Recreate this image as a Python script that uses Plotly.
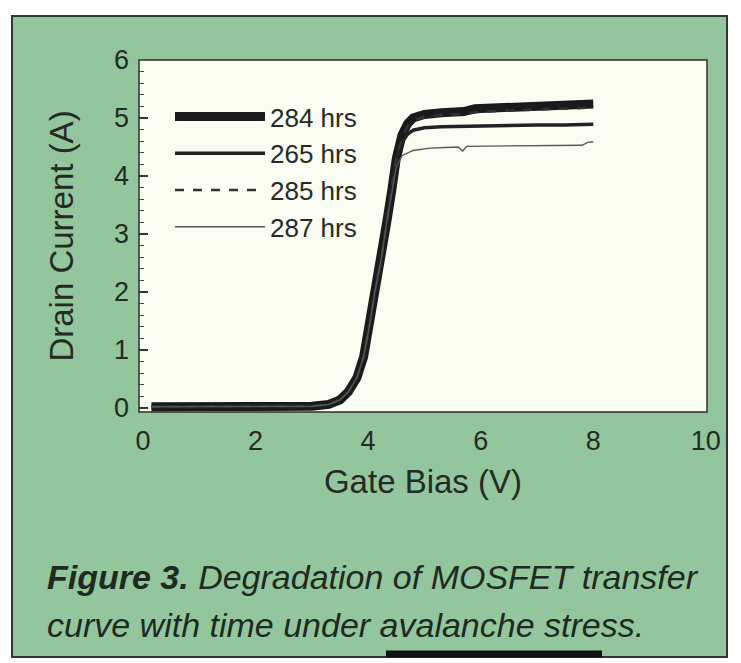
import plotly.graph_objects as go

# ---------------- data ----------------
gate_284 = [0.15, 0.5, 1.0, 1.5, 2.0, 2.5, 3.0, 3.3, 3.5, 3.65, 3.8, 3.92, 4.03, 4.12, 4.24, 4.33, 4.42, 4.5, 4.6, 4.7, 4.8, 5.0, 5.3, 5.7, 5.9, 6.5, 7.0, 7.5, 7.8, 8.0]
drain_284 = [0.02, 0.02, 0.02, 0.02, 0.02, 0.02, 0.03, 0.06, 0.14, 0.28, 0.52, 0.88, 1.45, 2.0, 2.6, 3.2, 3.75, 4.3, 4.7, 4.9, 5.0, 5.06, 5.09, 5.11, 5.16, 5.18, 5.2, 5.21, 5.22, 5.24]

gate_265 = [0.15, 0.5, 1.0, 1.5, 2.0, 2.5, 3.0, 3.3, 3.5, 3.65, 3.8, 3.92, 4.03, 4.12, 4.24, 4.33, 4.42, 4.5, 4.6, 4.7, 4.8, 5.0, 5.3, 5.7, 6.0, 6.5, 7.0, 7.5, 8.0]
drain_265 = [0.02, 0.02, 0.02, 0.02, 0.02, 0.02, 0.03, 0.06, 0.14, 0.28, 0.52, 0.88, 1.45, 2.0, 2.6, 3.2, 3.75, 4.28, 4.58, 4.72, 4.79, 4.83, 4.85, 4.86, 4.87, 4.87, 4.88, 4.88, 4.89]

gate_285 = [0.15, 0.5, 1.0, 1.5, 2.0, 2.5, 3.0, 3.3, 3.5, 3.65, 3.8, 3.92, 4.03, 4.12, 4.24, 4.33, 4.42, 4.5, 4.6, 4.7, 4.8, 5.0, 5.3, 5.7, 6.0, 6.5, 7.0, 7.5, 8.0]
drain_285 = [0.02, 0.02, 0.02, 0.02, 0.02, 0.02, 0.03, 0.06, 0.14, 0.28, 0.52, 0.88, 1.45, 2.0, 2.6, 3.2, 3.75, 4.3, 4.66, 4.86, 4.96, 5.02, 5.05, 5.07, 5.11, 5.13, 5.15, 5.16, 5.18]

gate_287 = [0.15, 0.5, 1.0, 1.5, 2.0, 2.5, 3.0, 3.3, 3.5, 3.65, 3.8, 3.92, 4.03, 4.12, 4.24, 4.33, 4.42, 4.5, 4.6, 4.7, 4.8, 5.1, 5.6, 5.68, 5.75, 6.5, 7.0, 7.5, 7.8, 7.9, 8.0]
drain_287 = [0.02, 0.02, 0.02, 0.02, 0.02, 0.02, 0.03, 0.06, 0.14, 0.28, 0.52, 0.88, 1.45, 2.0, 2.6, 3.2, 3.72, 4.15, 4.35, 4.4, 4.44, 4.48, 4.5, 4.43, 4.51, 4.52, 4.52, 4.53, 4.53, 4.58, 4.59]

labels = ["284 hrs", "265 hrs", "285 hrs", "287 hrs"]
x_ticks = [0, 2, 4, 6, 8, 10]
y_ticks = [0, 1, 2, 3, 4, 5, 6]
caption_lines = [
    "<b><i>Figure 3.</i></b><i> Degradation of MOSFET transfer</i>",
    "<i>curve with time under avalanche stress.</i>",
]

FONT = "Liberation Sans Narrow, Liberation Sans, Arial, sans-serif"
INK = "#262a26"
GREEN = "#93c69d"
CREAM = "#fbfcf2"

fig = go.Figure()
series = [
    (gate_284, drain_284, labels[0], dict(color="#1a1a1a", width=9)),
    (gate_265, drain_265, labels[1], dict(color="#222222", width=3.5)),
    (gate_285, drain_285, labels[2], dict(color="#333333", width=2.5, dash="dash")),
    (gate_287, drain_287, labels[3], dict(color="#555555", width=1.4)),
]
for gx, dy, name, line in series:
    fig.add_trace(go.Scatter(x=gx, y=dy, name=name, mode="lines", line=line))

# frame geometry (pixels of the 741x663 page)
L, R, T, B = 139, 707, 60, 412
W, H = R - L, B - T

def px_x(p):
    return (p - L) / W

def px_y(p):
    return (B - p) / H

shapes = [
    dict(type="rect", xref="paper", yref="paper", layer="below",
         x0=px_x(12), x1=px_x(727), y0=px_y(657), y1=px_y(16),
         fillcolor=GREEN, line=dict(color="#2e3a30", width=2)),
    dict(type="rect", xref="x domain", yref="y domain", layer="below",
         x0=0, x1=1, y0=0, y1=1, fillcolor=CREAM,
         line=dict(color="#2e2e2e", width=1.5)),
    dict(type="line", xref="paper", yref="paper", layer="above",
         x0=px_x(386), x1=px_x(602), y0=px_y(654), y1=px_y(654),
         line=dict(color="#111111", width=7)),
]

annotations = []
for i, (txt, cy) in enumerate(zip(caption_lines, [577, 625])):
    annotations.append(dict(
        xref="paper", yref="paper", x=px_x(45), y=px_y(cy),
        xanchor="left", yanchor="middle", align="left", showarrow=False,
        text=txt, font=dict(family=FONT, size=34, color="#1e2a22")))

fig.update_layout(
    width=741, height=663,
    margin=dict(l=L, r=741 - R, t=T, b=663 - B),
    paper_bgcolor="white",
    plot_bgcolor="rgba(0,0,0,0)",
    font=dict(family=FONT, color=INK, size=28),
    shapes=shapes,
    showlegend=True,
    legend=dict(x=px_x(170), y=px_y(93), xanchor="left", yanchor="top",
                bgcolor="rgba(0,0,0,0)", itemwidth=90,
                font=dict(family=FONT, size=26, color=INK),
                tracegroupgap=0),
    annotations=annotations,
)

fig.update_xaxes(
    range=[-0.07, 10.02], tickvals=x_ticks, ticks="", showgrid=False, zeroline=False,
    showline=False, tickfont=dict(size=27, family=FONT, color=INK), ticklabelstandoff=10,
    title=dict(text="Gate Bias (V)", font=dict(size=33, family=FONT, color=INK), standoff=14),
)
fig.update_yaxes(
    range=[-0.07, 6.0], tickvals=y_ticks, ticks="inside", ticklen=9, tickwidth=1.5,
    tickcolor="#333333", showgrid=False, zeroline=False, showline=False,
    minor=dict(dtick=0.2, tick0=0, ticks="inside", ticklen=5, tickwidth=1, tickcolor="#444444", showgrid=False),
    tickfont=dict(size=27, family=FONT, color=INK), ticklabelstandoff=9,
    title=dict(text="Drain Current (A)", font=dict(size=33, family=FONT, color=INK), standoff=30),
)

fig.write_html("out.html")
